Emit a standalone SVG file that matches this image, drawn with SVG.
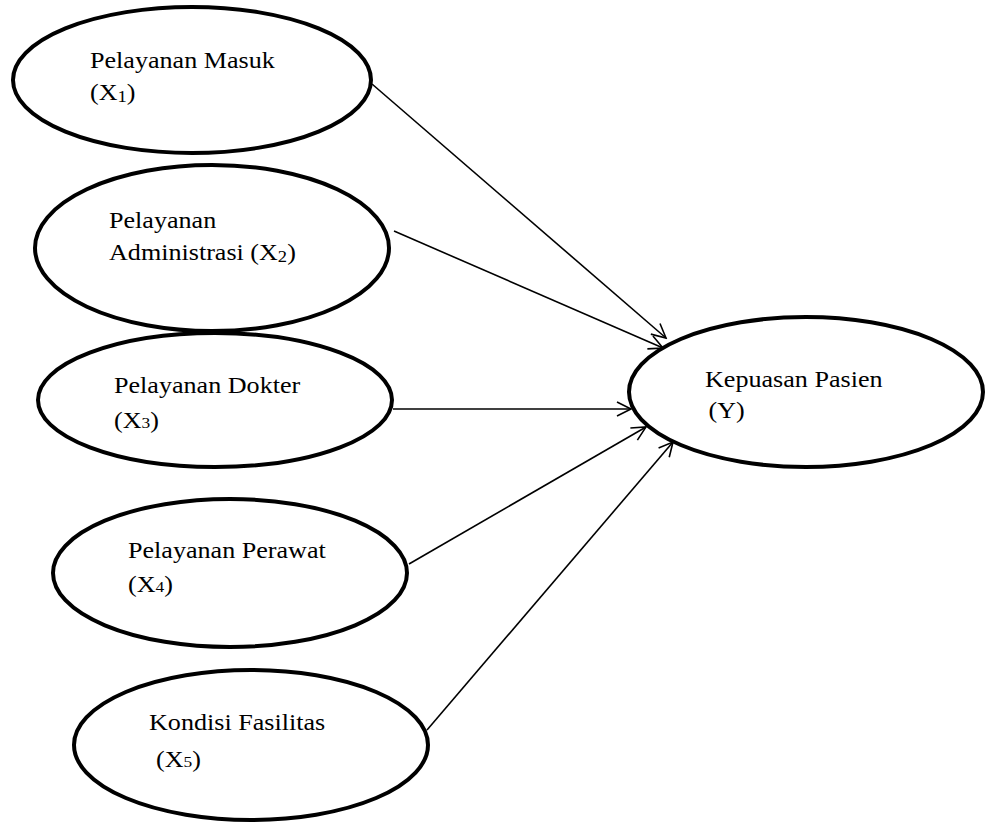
<svg xmlns="http://www.w3.org/2000/svg" width="987" height="823" viewBox="0 0 987 823">
<style>
.node ellipse{fill:#fff;stroke:#000;stroke-width:4}
.node text{font-family:"Liberation Serif","Times New Roman",serif;font-size:22.5px;fill:#000}
.sm{font-size:15px}
.sub{font-size:16px}
#connectors line{stroke:#000;stroke-width:1.6;fill:none}
</style>
<defs>
<marker id="arr" viewBox="0 0 20 20" refX="18" refY="10" markerWidth="20" markerHeight="20" markerUnits="userSpaceOnUse" orient="auto">
<path d="M4,3 L18,10 L4,17" fill="none" stroke="#000" stroke-width="1.6"/>
</marker>
</defs>
<g id="connectors">
<line x1="372" y1="84" x2="666" y2="338" marker-end="url(#arr)"/>
<line x1="394" y1="231" x2="663" y2="348" marker-end="url(#arr)"/>
<line x1="393" y1="409" x2="631" y2="409" marker-end="url(#arr)"/>
<line x1="409" y1="564" x2="646" y2="427" marker-end="url(#arr)"/>
<line x1="427" y1="730" x2="673" y2="442" marker-end="url(#arr)"/>
</g>
<g id="x1" class="node">
<ellipse cx="192" cy="80" rx="179" ry="73"/>
<g transform="translate(90,0) scale(1.16,1)">
<text x="0" y="68">Pelayanan Masuk</text>
<text x="0" y="100">(X<tspan class="sub" dy="2">1</tspan><tspan dy="-2">)</tspan></text>
</g>
</g>
<g id="x2" class="node">
<ellipse cx="212" cy="248" rx="177" ry="83"/>
<g transform="translate(109,0) scale(1.16,1)">
<text x="0" y="228">Pelayanan</text>
<text x="0" y="260">Administrasi (X<tspan class="sub" dy="2">2</tspan><tspan dy="-2">)</tspan></text>
</g>
</g>
<g id="x3" class="node">
<ellipse cx="215" cy="400" rx="177" ry="67"/>
<g transform="translate(114,0) scale(1.16,1)">
<text x="0" y="393">Pelayanan Dokter</text>
<text x="0" y="428">(X<tspan class="sm">3</tspan>)</text>
</g>
</g>
<g id="x4" class="node">
<ellipse cx="230" cy="573" rx="177" ry="74"/>
<g transform="translate(128,0) scale(1.16,1)">
<text x="0" y="558">Pelayanan Perawat</text>
<text x="0" y="592">(X<tspan class="sm">4</tspan>)</text>
</g>
</g>
<g id="x5" class="node">
<ellipse cx="251" cy="745" rx="177" ry="75"/>
<g transform="translate(149,0) scale(1.16,1)">
<text x="0" y="730">Kondisi Fasilitas</text>
<text x="6" y="767">(X<tspan class="sm">5</tspan>)</text>
</g>
</g>
<g id="y" class="node">
<ellipse cx="806" cy="392" rx="177" ry="75"/>
<g transform="translate(705,0) scale(1.16,1)">
<text x="0" y="387">Kepuasan Pasien</text>
<text x="3" y="418">(Y)</text>
</g>
</g>
</svg>
